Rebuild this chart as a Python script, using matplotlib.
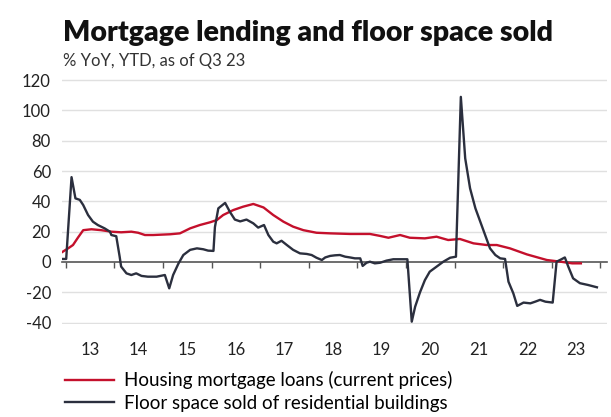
import numpy as np
import matplotlib.pyplot as plt

plt.rcParams['font.family'] = ['Lato', 'DejaVu Sans']

# floor space sold of residential buildings (% YoY, YTD)
floor_x = [2012.92, 2013.01, 2013.12, 2013.20, 2013.29, 2013.36, 2013.46, 2013.56, 2013.66, 2013.80,
           2013.91, 2013.94, 2014.04, 2014.11, 2014.14, 2014.25, 2014.35, 2014.45, 2014.56, 2014.69,
           2014.87, 2015.04, 2015.13, 2015.21, 2015.32, 2015.42, 2015.56, 2015.70, 2015.83, 2015.93,
           2016.04, 2016.07, 2016.14, 2016.28, 2016.38, 2016.48, 2016.59, 2016.72, 2016.86, 2016.96,
           2017.08, 2017.17, 2017.27, 2017.34, 2017.44, 2017.55, 2017.68, 2017.82, 2017.96, 2018.06,
           2018.16, 2018.27, 2018.34, 2018.44, 2018.54, 2018.64, 2018.75, 2018.85, 2018.95, 2019.06,
           2019.11, 2019.19, 2019.26, 2019.36, 2019.47, 2019.60, 2019.74, 2019.88, 2020.03, 2020.12,
           2020.19, 2020.29, 2020.39, 2020.49, 2020.63, 2020.77, 2020.91, 2021.03, 2021.13, 2021.22,
           2021.32, 2021.43, 2021.53, 2021.63, 2021.73, 2021.84, 2021.94, 2022.04, 2022.11, 2022.21,
           2022.29, 2022.42, 2022.56, 2022.66, 2022.76, 2022.87, 2023.02, 2023.10, 2023.20, 2023.27,
           2023.34, 2023.44, 2023.58, 2023.75, 2023.93]
floor_y = [2, 2, 56, 42, 41, 37.6, 31, 26.6, 24.4, 22.2,
           20, 17.8, 17, 3.5, -3, -7.5, -8.6, -7.5, -9.2, -9.7,
           -9.7, -8.6, -17.4, -8.6, -1, 4.6, 8, 9, 8.4, 7.5,
           7.3, 23, 35.4, 39, 33, 28, 26.8, 28, 25.5, 22.7,
           24.4, 17.8, 13.4, 12.3, 14, 11.2, 8, 5.7, 5.3, 4.6,
           2.8, 1.3, 3, 4, 4.4, 4.6, 3.5, 3, 2.4, 2.4,
           -2.6, -0.5, 0.2, -0.9, -0.5, 0.9, 1.8, 1.8, 1.8, -39.4,
           -29.5, -20, -12, -6.4, -3.1, 0.2, 2.8, 3.5, 109, 68.4,
           48.6, 35.4, 26.6, 17.8, 9, 4.6, 2.4, 2, -13, -20.7,
           -29, -26.8, -27.3, -26.2, -25, -26.2, -26.8, 0.2, 1.8, 3,
           -3, -10.8, -14, -15.2, -16.7]

# housing mortgage loans (current prices)
loans_x = [2012.92, 2013.05, 2013.15, 2013.25, 2013.36, 2013.53, 2013.73, 2013.94, 2014.14, 2014.35,
           2014.49, 2014.63, 2014.80, 2015.15, 2015.35, 2015.56, 2015.76, 2015.97, 2016.11, 2016.24,
           2016.45, 2016.65, 2016.86, 2017.07, 2017.27, 2017.48, 2017.68, 2017.89, 2018.16, 2018.44,
           2018.85, 2019.26, 2019.47, 2019.64, 2019.88, 2020.08, 2020.39, 2020.63, 2020.87, 2021.11,
           2021.39, 2021.66, 2021.87, 2022.14, 2022.49, 2022.90, 2023.18, 2023.42, 2023.60]
loans_y = [6.4, 9, 11.2, 16, 21, 21.6, 21, 20, 19.6, 20,
           19.3, 17.8, 17.8, 18.3, 18.9, 22.2, 24.4, 26.2, 27.7, 31,
           34.3, 36.5, 38.3, 36, 31, 26.6, 23.3, 21, 19.3, 18.9,
           18.5, 18.5, 17.2, 16, 17.8, 16, 15.6, 16.7, 14.5, 15.2,
           12.3, 11.2, 11.2, 9, 5, 1.3, 0.2, -0.9, -0.9]

years = list(range(2013, 2024))
year_labels = [str(y)[2:] for y in years]
yticks = [-40, -20, 0, 20, 40, 60, 80, 100, 120]

red = '#c4102c'
dark = '#2b2f3e'

fig = plt.figure(figsize=(6.11, 4.17), dpi=100)
ax = fig.add_axes([0.1015, 0.2228, 0.892, 0.5885])

for v in yticks:
    if v != 0:
        ax.axhline(v, color='#e0e0e0', lw=1, zorder=0)

l1, = ax.plot(loans_x, loans_y, color=red, lw=1.7, zorder=3,
              label='Housing mortgage loans (current prices)')
l2, = ax.plot(floor_x, floor_y, color=dark, lw=1.7, zorder=4,
              label='Floor space sold of residential buildings')

ax.set_xlim(2012.924, 2024.138)
ax.set_ylim(-41, 121)

for s in ['top', 'right', 'left']:
    ax.spines[s].set_visible(False)
ax.spines['bottom'].set_position(('data', 0))
ax.spines['bottom'].set_color('#555555')
ax.spines['bottom'].set_linewidth(1.2)
ax.spines['bottom'].set_zorder(2)

ax.set_xticks(list(range(2013, 2025)))
ax.set_xticklabels([])
ax.tick_params(axis='x', direction='out', length=4, width=1, color='#555555')
ax.set_yticks(yticks)
ax.set_yticklabels([str(v) for v in yticks], fontsize=12, color='#222222')
ax.tick_params(axis='y', length=0, pad=8)

for y, lab in zip(years, year_labels):
    ax.text(y + 0.5, -58, lab, ha='center', va='center', fontsize=12,
            color='#222222', clip_on=False)

fig.text(0.103, 0.902, 'Mortgage lending and floor space sold', fontsize=20.5,
         fontweight='heavy', color='#111111')
fig.text(0.103, 0.842, '% YoY, YTD, as of Q3 23', fontsize=12, color='#333333')

fig.legend(handles=[l1, l2], loc='upper left', bbox_to_anchor=(0.106, 0.11),
           frameon=False, fontsize=13.5, handlelength=2.6, labelspacing=0.3,
           borderpad=0, borderaxespad=0, handletextpad=0.55)

fig.savefig('out.png', dpi=100)
